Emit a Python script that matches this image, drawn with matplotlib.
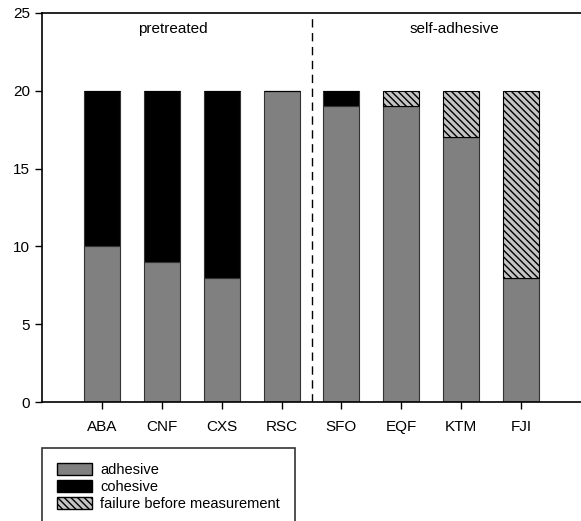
import matplotlib
matplotlib.use('Agg')
import matplotlib.pyplot as plt
from matplotlib.patches import Patch

plt.rcParams['font.family'] = ['Liberation Sans', 'DejaVu Sans']
plt.rcParams['hatch.linewidth'] = 1.0

# data
cements = ['ABA', 'CNF', 'CXS', 'RSC', 'SFO', 'EQF', 'KTM', 'FJI']
adhesive = [10, 9, 8, 20, 19, 19, 17, 8]
cohesive = [10, 11, 12, 0, 1, 0, 0, 0]
failure = [0, 0, 0, 0, 0, 1, 3, 12]
groups = ['pretreated', 'self-adhesive']

fig = plt.figure(figsize=(5.81, 5.21), dpi=100)
ax = fig.add_axes([42 / 581, 1 - 402 / 521, 1 - 42 / 581, (402 - 13) / 521])

x = list(range(len(cements)))
w = 0.6
gray = '#808080'
edge = '#333333'
hatch_fill = '#c4c4c4'
hatch = '\\' * 5

ax.bar(x, adhesive, w, color=gray, edgecolor=edge, linewidth=0.8)
bottom2 = [a for a in adhesive]
ax.bar(x, cohesive, w, bottom=bottom2, color='black', edgecolor=edge, linewidth=0.8)
bottom3 = [a + c for a, c in zip(adhesive, cohesive)]
ax.bar(x, failure, w, bottom=bottom3, color=hatch_fill, edgecolor='black',
       hatch=hatch, linewidth=0.8)

# divider between groups
ax.axvline(3.5, color='black', linestyle=(0, (6, 4)), linewidth=1)
ax.text(1.18, 24.0, groups[0], ha='center', va='center', fontsize=11)
ax.text(5.88, 24.0, groups[1], ha='center', va='center', fontsize=11)

ax.set_xlim(-1, 8)
ax.set_ylim(0, 25)
ax.set_yticks([0, 5, 10, 15, 20, 25])
ax.set_xticks(x)
ax.set_xticklabels(cements)
ax.tick_params(axis='both', labelsize=11, direction='out', length=5, width=1)
ax.tick_params(axis='x', pad=8)
ax.spines['right'].set_visible(False)
for s in ['left', 'bottom', 'top']:
    ax.spines[s].set_linewidth(1.2)

handles = [
    Patch(facecolor=gray, edgecolor='black', label='adhesive'),
    Patch(facecolor='black', edgecolor='black', label='cohesive'),
    Patch(facecolor=hatch_fill, edgecolor='black', hatch=hatch, label='failure before measurement'),
]
leg = fig.legend(handles=handles, loc='upper left',
                 bbox_to_anchor=(42 / 581, 1 - 448 / 521), fontsize=10.5,
                 frameon=True, fancybox=False, edgecolor='black',
                 handlelength=2.4, handleheight=0.9, labelspacing=0.2,
                 borderpad=1.0, handletextpad=0.6, borderaxespad=0)
leg.get_frame().set_linewidth(1.2)

fig.savefig('out.png', dpi=100)
